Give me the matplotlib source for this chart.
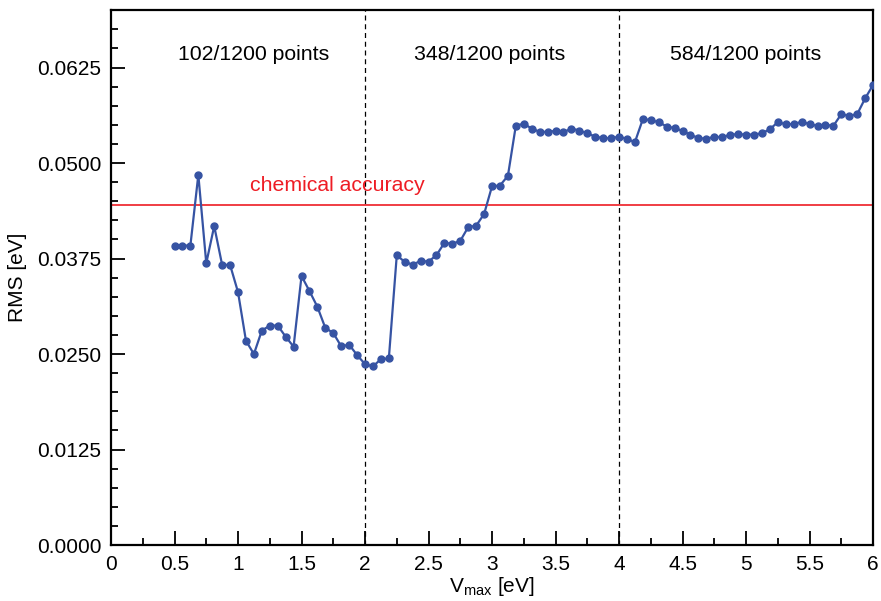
import numpy as np
import matplotlib
matplotlib.use('Agg')
import matplotlib.pyplot as plt
from matplotlib.ticker import MultipleLocator, FormatStrFormatter

plt.rcParams['font.family'] = ['Liberation Sans', 'DejaVu Sans']
plt.rcParams['mathtext.fontset'] = 'custom'
plt.rcParams['mathtext.rm'] = 'Liberation Sans'
plt.rcParams['mathtext.it'] = 'Liberation Sans'

# V_max grid (eV), step 1/16 from 0.5 to 6
vmax = np.arange(0.5, 6.0 + 1e-9, 0.0625)

rms = [0.0392, 0.0392, 0.0392, 0.04846, 0.03689, 0.04175, 0.03667, 0.03667,
       0.03311, 0.02675, 0.0250, 0.02807, 0.02873, 0.02873, 0.02728, 0.02597,
       0.03522, 0.03325, 0.03118, 0.02842, 0.02776, 0.02601, 0.02623, 0.02487,
       0.02368, 0.02338, 0.02434, 0.02443, 0.03794, 0.03706, 0.03671, 0.03719,
       0.03711, 0.03794, 0.03956, 0.03943, 0.03982, 0.04162, 0.04180, 0.04333,
       0.04697, 0.04706, 0.04833, 0.05491, 0.05513, 0.05452, 0.05408, 0.05408,
       0.05421, 0.05404, 0.05452, 0.05425, 0.05390, 0.05346, 0.05325, 0.05325,
       0.05346, 0.05315, 0.05274, 0.05575, 0.05562, 0.05535, 0.05478, 0.05457,
       0.05421, 0.05368, 0.05329, 0.05316, 0.05346, 0.05337, 0.05373, 0.05377,
       0.05373, 0.05373, 0.05390, 0.05443, 0.05535, 0.05509, 0.05509, 0.05540,
       0.05509, 0.05487, 0.05500, 0.05487, 0.05640, 0.05618, 0.05640, 0.05846,
       0.06022]

chem_acc = 0.0445
split_x = [2, 4]
region_x = [1.12, 2.98, 5.0]
region_labels = ['102/1200 points', '348/1200 points', '584/1200 points']

fig = plt.figure(figsize=(8.81, 6.01), dpi=100)
ax = fig.add_axes([0.126, 0.093, 0.865, 0.890])

ax.plot(vmax, rms, '-o', color='#3653a3', lw=1.6, ms=5, zorder=3)
ax.axhline(chem_acc, color='#ee1c24', lw=1.2, zorder=2)
for xv in split_x:
    ax.axvline(xv, color='black', lw=0.9, ls=(0, (4, 3)), zorder=1)

ax.text(1.78, 0.0471, 'chemical accuracy', color='#ee1c24', fontsize=15.3,
        ha='center', va='center')
for xv, lab in zip(region_x, region_labels):
    ax.text(xv, 0.0642, lab, fontsize=15.3, ha='center', va='center')

ax.set_xlim(0, 6)
ax.set_ylim(0, 0.07)
ax.xaxis.set_major_locator(MultipleLocator(0.5))
ax.xaxis.set_minor_locator(MultipleLocator(0.25))
ax.yaxis.set_major_locator(MultipleLocator(0.0125))
ax.yaxis.set_minor_locator(MultipleLocator(0.0025))
ax.yaxis.set_major_formatter(FormatStrFormatter('%.4f'))
ax.xaxis.set_major_formatter(plt.FuncFormatter(lambda v, p: '%g' % v))

ax.tick_params(which='both', direction='in', top=False, right=False,
               labelsize=15, width=1.3)
ax.tick_params(which='major', length=10, pad=7)
ax.tick_params(which='minor', length=5)
for s in ax.spines.values():
    s.set_linewidth(1.6)

ax.set_xlabel(r'V$_{\rm max}$ [eV]', fontsize=15, labelpad=1)
ax.set_ylabel('RMS [eV]', fontsize=15, labelpad=7)

plt.savefig('out.png', dpi=100)
